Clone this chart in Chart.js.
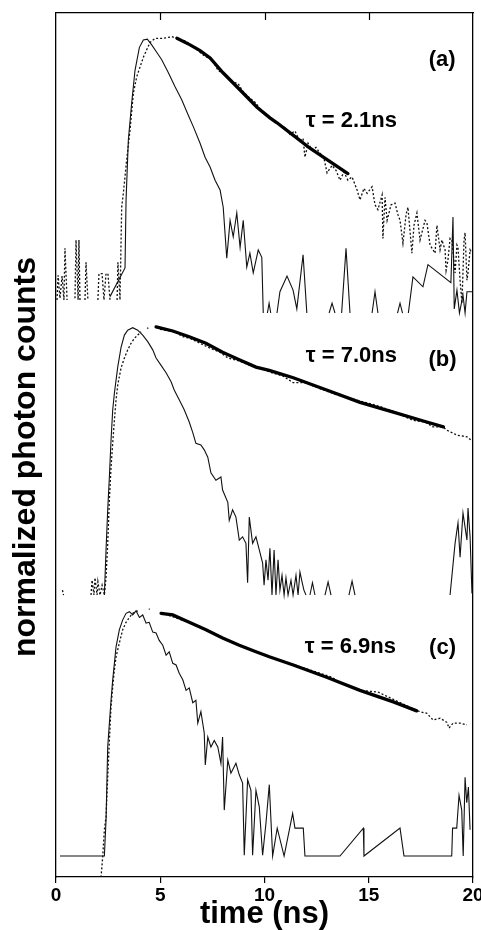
<!DOCTYPE html>
<html><head><meta charset="utf-8">
<script src="https://cdn.jsdelivr.net/npm/chart.js@4/dist/chart.umd.min.js"></script>
<style>html,body{margin:0;padding:0;background:#fff;}canvas{display:block;}</style>
</head><body>
<canvas id="c" width="481" height="930"></canvas>
<script>
// ---- DATA: time (ns) and log10 photon counts above each panel's floor (decades); null = gap ----
const xTicks = [0, 5, 10, 15, 20];
const topTicks = [5, 10, 15];

// Panel (a)
const tSolidA = [2.59,3.31,3.36,3.47,3.63,3.79,4.00,4.19,4.38,4.59,4.83,5.07,5.39,5.71,6.03,6.35,6.59,6.91,7.15,7.39,7.63,7.87,8.02,8.19,8.35,8.50,8.67,8.83,8.98,9.15,9.30,9.46,9.70,9.87,9.94,null,10.14,10.22,10.30,null,10.60,10.74,11.08,11.37,11.55,11.85,12.03,null,13.10,13.24,13.38,null,13.70,13.91,14.10,null,15.16,15.30,15.44,null,16.38,16.50,16.62,null,16.90,17.12,17.60,17.84,18.94,19.04,19.10,19.23,19.35,19.52,19.62,19.71,20.0];
const vSolidA = [0.20,0.55,1.38,2.11,2.56,2.96,3.24,3.33,3.34,3.27,3.18,3.09,2.93,2.76,2.60,2.41,2.27,2.07,1.90,1.78,1.62,1.50,1.29,0.67,1.13,0.93,1.22,0.80,1.13,0.56,0.73,0.49,0.77,0.68,0,null,0,0.12,0,null,0,0.26,0.45,0.28,0.05,0.71,0,null,0,0.12,0,null,0,0.79,0,null,0,0.26,0,null,0,0.12,0,null,0,0.44,0.32,0.59,0.37,1.17,0.05,0.28,0,0.22,0,0.26,0.26];
const tDotA = [0.05,0.10,0.19,0.29,0.38,0.43,0.53,null,0.91,0.96,1.06,1.10,1.15,null,1.39,1.44,1.53,null,2.01,2.06,2.21,2.30,2.40,2.49,2.59,null,2.93,2.97,3.07,3.15,3.23,3.39,3.55,3.71,3.87,4.03,4.19,4.35,4.51,4.75,5.13,5.56,5.80,6.19,6.67,7.15,7.48,7.77,8.15,8.44,8.73,8.97,9.30,9.59,9.88,10.17,10.41,10.74,10.98,11.22,11.46,11.70,11.85,11.94,12.09,12.28,12.47,12.66,12.85,13.00,13.24,13.43,13.62,13.81,14.00,14.20,14.44,14.58,14.77,14.92,15.16,15.30,15.44,15.64,15.68,15.78,15.88,16.07,16.26,16.40,16.50,16.64,16.79,16.88,17.07,17.17,17.31,17.46,17.55,17.70,17.79,17.94,18.18,18.27,18.42,18.51,18.66,18.71,18.80,18.90,18.99,19.14,19.23,19.28,19.38,19.47,19.57,19.62,19.71,19.76,19.86,19.95];
const vDotA = [0.16,0.46,0.18,0.45,0.16,0.79,0.16,null,0.18,0.89,0.16,0.89,0.16,null,0.16,0.62,0.16,null,0.16,0.48,0.48,0.16,0.48,0.48,0.16,null,0.16,0.62,0.16,1.29,1.46,1.87,2.23,2.68,2.88,3.00,3.12,3.21,3.30,3.35,3.35,3.37,3.35,3.32,3.23,3.13,3.09,2.96,2.90,2.82,2.80,2.70,2.62,2.56,2.45,2.41,2.35,2.29,2.26,2.18,2.22,2.09,2.13,1.90,2.07,1.99,2.02,1.95,1.89,1.71,1.80,1.74,1.62,1.72,1.62,1.66,1.50,1.38,1.52,1.46,1.54,1.32,1.26,1.44,0.91,1.41,1.13,1.32,1.34,1.20,1.13,0.85,1.20,1.29,0.73,1.07,1.22,0.89,0.98,1.13,1.10,0.83,0.73,1.07,0.77,0.89,0.77,0.52,0.65,0.91,0.89,0.49,0.83,0.80,0.40,0.12,0.89,0.98,0.40,0.49,0.77,0.73];
const tFitA = [5.80,6.43,6.91,7.39,8.01,8.83,9.64,10.26,10.60,11.37,12.18,13.00,14.00];
const vFitA = [3.35,3.27,3.20,3.11,2.93,2.72,2.51,2.38,2.32,2.17,2.01,1.87,1.70];

// Panel (b)
const tSolidB = [2.32,2.40,2.48,2.56,2.64,2.72,2.80,2.96,3.12,3.28,3.44,3.68,3.92,4.16,4.40,4.64,4.80,5.04,5.28,5.52,5.67,5.91,6.15,6.39,6.56,6.71,6.95,7.11,7.28,7.43,7.67,7.91,7.99,8.24,8.31,8.47,8.63,8.79,8.95,9.11,9.19,9.27,9.43,9.59,9.75,9.91,9.98,10.07,10.17,10.26,10.36,10.46,10.55,10.65,10.74,10.84,10.94,11.03,11.13,11.27,11.37,11.51,11.61,11.70,11.80,11.89,11.99,null,12.18,12.30,12.42,null,12.90,13.05,13.19,null,14.05,14.20,14.34,null,18.90,19.14,19.28,19.38,19.52,19.71,19.76,19.86,19.95];
const vSolidB = [0,0.55,1.04,1.44,1.89,2.26,2.46,2.78,3.02,3.17,3.23,3.26,3.23,3.17,3.09,2.99,2.89,2.80,2.71,2.60,2.50,2.38,2.26,2.11,1.98,1.85,1.83,1.77,1.68,1.49,1.40,1.44,1.28,1.13,0.91,1.04,0.95,0.67,0.71,0.63,0.15,0.95,0.63,0.71,0.55,0.39,0.12,0.43,0.18,0.57,0,0.55,0,0.43,0.06,0.24,0,0.21,0,0.18,0,0.24,0,0.28,0.16,0.06,0,null,0,0.15,0,null,0,0.16,0,null,0,0.17,0,null,0,0.63,0.88,0.46,1.00,0.67,1.06,0.71,0.02];
const tDotB = [0.31,0.36,null,1.68,1.73,1.82,1.87,1.97,2.01,2.11,2.21,2.32,2.40,2.48,2.56,2.64,2.72,2.80,2.88,2.96,3.12,3.28,3.44,3.60,3.76,3.92,4.08,null,4.37,4.43,null,4.99,5.71,6.09,6.43,6.91,7.39,7.87,8.25,8.83,9.30,9.88,10.36,10.89,11.37,11.94,12.42,13.48,14.10,14.82,15.54,16.26,17.12,17.70,18.08,18.56,18.75,18.99,19.23,19.47,19.71,19.90];
const vDotB = [0.06,0,null,0,0.18,0,0.21,0,0.16,0,0.12,0,0.22,0.63,1.16,1.56,1.85,2.13,2.38,2.56,2.77,2.89,2.99,3.07,3.13,3.17,3.21,null,3.26,3.25,null,3.24,3.21,3.15,3.13,3.07,3.01,2.96,2.89,2.85,2.80,2.76,2.71,2.67,2.59,2.59,2.54,2.44,2.40,2.35,2.30,2.23,2.13,2.11,2.05,2.05,2.01,1.98,1.95,1.94,1.93,1.89];
const tFitB = [4.80,5.60,6.39,7.19,7.99,8.79,9.59,10.23,11.38,12.98,14.58,16.18,17.78,18.58];
const vFitB = [3.27,3.22,3.15,3.07,2.96,2.87,2.78,2.74,2.65,2.50,2.35,2.23,2.11,2.05];

// Panel (c)
const tSolidC = [0.19,2.32,2.40,2.48,2.56,2.64,2.72,2.80,2.88,3.04,3.20,3.36,3.52,3.68,3.84,4.00,4.16,4.32,4.47,4.64,4.80,4.95,5.12,5.28,5.43,5.60,5.76,5.91,6.08,6.24,6.39,6.56,6.71,6.80,6.95,7.11,7.16,7.28,7.43,7.59,7.76,7.91,7.99,8.07,8.24,8.39,8.63,8.79,8.95,9.03,9.19,9.35,9.43,9.59,9.75,9.91,10.07,10.23,10.39,10.61,10.94,11.35,11.46,11.86,11.94,13.62,14.74,14.77,16.50,16.69,18.98,19.02,19.22,19.33,19.46,19.53,19.62,19.70,19.78,19.86];
const vSolidC = [0,0,0.44,1.33,1.62,1.90,2.15,2.35,2.55,2.76,2.88,2.96,2.98,2.94,2.99,2.91,2.94,2.84,2.85,2.73,2.72,2.63,2.57,2.45,2.49,2.35,2.33,2.23,2.15,2.02,2.05,1.87,1.90,1.62,1.76,1.50,1.11,1.45,1.33,1.41,1.33,1.13,1.45,0.56,1.17,1.01,1.13,0.99,0.89,0.01,0.93,0.80,0.01,0.80,0.60,0.01,0.40,0.87,0,0.34,0,0.52,0.34,0.34,0,0,0.34,0,0.34,0,0,0.34,0.34,0.74,0.56,0,0.96,0.65,0.84,0.32];
const tDotC = [2.16,2.24,2.32,2.40,2.48,2.56,2.64,2.72,2.80,2.88,3.04,3.20,3.36,3.52,3.68,3.92,null,4.45,4.50,null,5.04,5.23,6.91,8.83,10.74,13.24,13.62,14.58,15.44,16.26,17.36,17.46,17.79,18.08,18.42,18.75,18.85,19.04,19.38,19.71];
const vDotC = [-0.26,-0.01,0.32,0.48,0.96,1.41,1.82,2.06,2.27,2.43,2.60,2.76,2.85,2.91,2.96,2.99,null,3.01,3.01,null,2.96,2.95,2.80,2.56,2.39,2.18,2.11,2.02,2.00,1.90,1.77,1.76,1.74,1.66,1.68,1.63,1.56,1.62,1.62,1.60];
const tFitC = [5.04,5.60,6.39,7.19,7.99,8.79,9.59,10.23,11.38,12.98,14.58,16.18,17.30];
const vFitC = [2.96,2.94,2.85,2.76,2.66,2.57,2.49,2.43,2.33,2.18,2.02,1.88,1.77];

// Panel labels
const annTexts = ['\u03c4 = 2.1ns', '(a)', '\u03c4 = 7.0ns', '(b)', '\u03c4 = 6.9ns', '(c)'];
const annT = [14.17, 18.52, 14.17, 18.54, 14.12, 18.54];
const annY = [9.22, 9.96, 6.35, 6.31, 2.81, 2.79];

// ---- layout constants (stack offsets in decades) ----
const BASE_A = 6.878, BASE_B = 3.439, BASE_C = 0.256, Y_MAX = 10.537;
const FONT = "'Liberation Sans', Arial, Helvetica, sans-serif";

function series(ts, vs, base) {
  const out = []; let last = 0;
  for (let i = 0; i < ts.length; i++) {
    const t = ts[i] === null ? last : ts[i];
    last = t;
    out.push({x: t, y: (vs[i] === null || ts[i] === null) ? null : vs[i] + base});
  }
  return out;
}
const solidStyle = {borderColor: '#111', borderWidth: 1.1, pointRadius: 0, tension: 0, fill: false, spanGaps: false, order: 1};
const dotStyle = {borderColor: '#111', borderWidth: 1.3, borderDash: [2, 2], pointRadius: 0, tension: 0, fill: false, spanGaps: false, order: 2};
const fitStyle = {borderColor: '#000', borderWidth: 3.3, pointRadius: 0, tension: 0, fill: false, order: 0, borderCapStyle: 'round'};

const datasets = [
  Object.assign({label: 'a fit', data: series(tFitA, vFitA, BASE_A)}, fitStyle),
  Object.assign({label: 'a solid', data: series(tSolidA, vSolidA, BASE_A)}, solidStyle),
  Object.assign({label: 'a dotted', data: series(tDotA, vDotA, BASE_A)}, dotStyle),
  Object.assign({label: 'b fit', data: series(tFitB, vFitB, BASE_B)}, fitStyle),
  Object.assign({label: 'b solid', data: series(tSolidB, vSolidB, BASE_B)}, solidStyle),
  Object.assign({label: 'b dotted', data: series(tDotB, vDotB, BASE_B)}, dotStyle),
  Object.assign({label: 'c fit', data: series(tFitC, vFitC, BASE_C)}, fitStyle),
  Object.assign({label: 'c solid', data: series(tSolidC, vSolidC, BASE_C)}, solidStyle),
  Object.assign({label: 'c dotted', data: series(tDotC, vDotC, BASE_C)}, dotStyle)
];

const overlay = {
  id: 'overlay',
  afterDraw(chart) {
    const {ctx, chartArea: a, scales: {x, y}} = chart;
    ctx.save();
    ctx.strokeStyle = '#000'; ctx.lineWidth = 1.2;
    topTicks.forEach(v => {
      const px = Math.round(x.getPixelForValue(v)) + 0.5;
      ctx.beginPath(); ctx.moveTo(px, a.top); ctx.lineTo(px, a.top + 7); ctx.stroke();
    });
    ctx.fillStyle = '#000'; ctx.textAlign = 'center'; ctx.textBaseline = 'middle';
    ctx.font = 'bold 22px ' + FONT;
    annTexts.forEach((s, i) => ctx.fillText(s, x.getPixelForValue(annT[i]), y.getPixelForValue(annY[i])));
    ctx.translate(26, (a.top + a.bottom) / 2 + 12);
    ctx.rotate(-Math.PI / 2);
    ctx.font = 'bold 32px ' + FONT;
    ctx.fillText('normalized photon counts', 0, 0);
    ctx.restore();
  }
};

new Chart(document.getElementById('c'), {
  type: 'line',
  data: {datasets},
  plugins: [overlay],
  options: {
    responsive: false, animation: false, devicePixelRatio: 1,
    layout: {padding: 0},
    plugins: {legend: {display: false}, tooltip: {enabled: false}},
    scales: {
      x: {
        type: 'linear', position: 'bottom', min: 0, max: 20,
        afterBuildTicks: s => { s.ticks = xTicks.map(v => ({value: v})); },
        ticks: {color: '#000', font: {family: FONT, weight: 'bold', size: 19}, padding: 1, maxRotation: 0, autoSkip: false},
        grid: {display: true, drawOnChartArea: false, drawTicks: true, tickLength: 6, color: '#000', lineWidth: 1.2},
        border: {display: true, color: '#000', width: 1.3},
        title: {display: true, text: 'time (ns)', color: '#000', font: {family: FONT, weight: 'bold', size: 31, lineHeight: 1}, padding: 0},
        afterFit: s => { s.height = 53; s.paddingLeft = 0; s.paddingRight = 0; }
      },
      x2: {
        type: 'linear', position: 'top', min: 0, max: 20,
        ticks: {display: false}, grid: {display: false},
        border: {display: true, color: '#000', width: 1.3},
        afterFit: s => { s.height = 13; s.paddingLeft = 0; s.paddingRight = 0; }
      },
      y: {
        type: 'linear', position: 'left', min: 0, max: Y_MAX,
        ticks: {display: false}, grid: {display: false},
        border: {display: true, color: '#000', width: 1.3},
        afterFit: s => { s.width = 56; s.paddingTop = 0; s.paddingBottom = 0; }
      },
      y2: {
        type: 'linear', position: 'right', min: 0, max: Y_MAX,
        ticks: {display: false}, grid: {display: false},
        border: {display: true, color: '#000', width: 1.3},
        afterFit: s => { s.width = 8; s.paddingTop = 0; s.paddingBottom = 0; }
      }
    }
  }
});
</script>
</body></html>
